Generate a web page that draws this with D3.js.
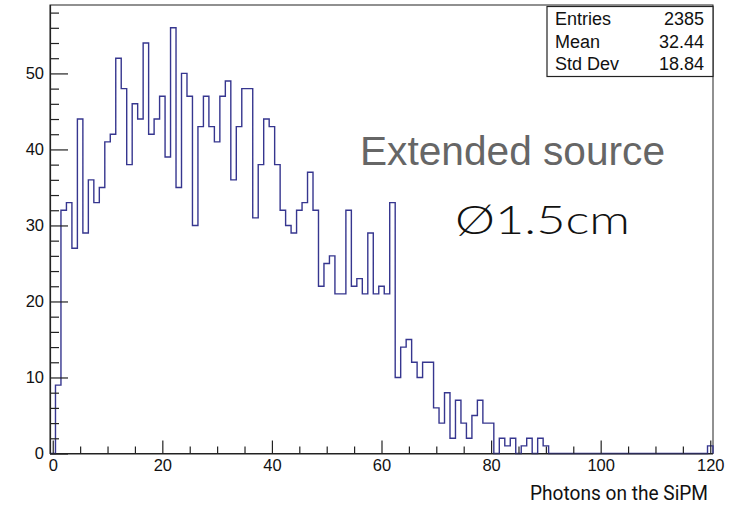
<!DOCTYPE html>
<html>
<head>
<meta charset="utf-8">
<script src="https://cdn.jsdelivr.net/npm/d3@7"></script>
<style>
  html, body { margin: 0; padding: 0; background: #fff; }
  svg { display: block; }
</style>
</head>
<body>
<svg id="chart" width="730" height="509"></svg>
<script>
// ---- Data ----
// bin index (photon count) 0..120, one bin per integer
const binIndex = d3.range(0, 121);
const counts = [
  0, 9, 32, 33, 27, 44, 29, 36, 33, 35,
  41, 42, 52, 48, 38, 46, 44, 54, 42, 44,
  47, 39, 56, 35, 50, 47, 30, 43, 47, 43,
  41, 47, 49, 36, 43, 48, 48, 31, 38, 44,
  43, 38, 32, 30, 29, 32, 33, 37, 32, 22,
  25, 26, 21, 21, 32, 22, 23, 21, 29, 21,
  22, 21, 33, 10, 14, 15, 12, 10, 12, 12,
  6, 4, 8, 2, 7, 4, 2, 5, 7, 4,
  4, 0, 2, 1, 2, 0, 1, 2, 0, 2,
  1, 0, 0, 0, 0, 0, 0, 0, 0, 0,
  0, 0, 0, 0, 0, 0, 0, 0, 0, 0,
  0, 0, 0, 0, 0, 0, 0, 0, 0, 0,
  1
];
const xMajorTicks = [0, 20, 40, 60, 80, 100, 120];
const xMinorTicks = [5, 10, 15, 25, 30, 35, 45, 50, 55, 65, 70, 75, 85, 90, 95, 105, 110, 115];
const yMajorTicks = [0, 10, 20, 30, 40, 50];
const yMinorTicks = [2, 4, 6, 8, 12, 14, 16, 18, 22, 24, 26, 28, 32, 34, 36, 38, 42, 44, 46, 48, 52, 54, 56, 58];
const statLabels = ["Entries", "Mean", "Std Dev"];
const statValues = ["2385", "32.44", "18.84"];
const titleText = "Extended source";
const sizeText = "Ø1.5cm";
const xAxisTitle = "Photons on the SiPM";

// ---- Layout ----
const svg = d3.select("#chart");
const L = 50, R = 713, T = 5, B = 453.5;
const x = d3.scaleLinear().domain([-0.5, 120.5]).range([L, R]);
const y = d3.scaleLinear().domain([0, 59]).range([B, T]);
const axisFont = "'Liberation Sans', Arial, Helvetica, sans-serif";

// frame
svg.append("rect")
  .attr("x", L).attr("y", T).attr("width", R - L).attr("height", B - T)
  .attr("fill", "none").attr("stroke", "#222").attr("stroke-width", 1);

// histogram outline (step)
const pts = [[-0.5, 0]];
binIndex.forEach((b, i) => { pts.push([b - 0.5, counts[i]]); pts.push([b + 0.5, counts[i]]); });
pts.push([120.5, 0]);
const line = d3.line().x(d => x(d[0])).y(d => y(d[1]));
svg.append("path")
  .attr("d", line(pts))
  .attr("fill", "none")
  .attr("stroke", "#36368f")
  .attr("stroke-width", 1.4)
  .attr("stroke-linejoin", "miter");

// axes
function styleAxis(g) {
  g.selectAll("path.domain").attr("stroke", "#222").attr("stroke-width", 1.2);
  g.selectAll(".tick line").attr("stroke", "#222").attr("stroke-width", 1.2);
  g.selectAll("text").attr("font-family", axisFont).attr("font-size", 16.5).attr("fill", "#111");
}
const gxMinor = svg.append("g").attr("transform", `translate(0,${B})`)
  .call(d3.axisBottom(x).tickValues(xMinorTicks).tickSize(-7).tickFormat(""));
styleAxis(gxMinor);
const gx = svg.append("g").attr("transform", `translate(0,${B})`)
  .call(d3.axisBottom(x).tickValues(xMajorTicks).tickSize(-13).tickPadding(6).tickFormat(d3.format("d")));
styleAxis(gx);
gx.selectAll("path.domain").attr("d", `M${L},0.5H${R}`);
gxMinor.selectAll("path.domain").remove();

const gyMinor = svg.append("g").attr("transform", `translate(${L},0)`)
  .call(d3.axisLeft(y).tickValues(yMinorTicks).tickSize(-9).tickFormat(""));
styleAxis(gyMinor);
gyMinor.selectAll("path.domain").remove();
const gy = svg.append("g").attr("transform", `translate(${L},0)`)
  .call(d3.axisLeft(y).tickValues(yMajorTicks).tickSize(-18).tickPadding(6).tickFormat(d3.format("d")));
styleAxis(gy);
gy.selectAll("path.domain").attr("d", `M0.5,${B}V${T}`);

// stats box
const sb = svg.append("g");
sb.append("rect").attr("x", 547).attr("y", 6.5).attr("width", 166).attr("height", 70)
  .attr("fill", "#fff").attr("stroke", "#222").attr("stroke-width", 1.2);
const rowY = [25, 47.5, 70];
statLabels.forEach((s, i) => {
  sb.append("text").attr("x", 555).attr("y", rowY[i]).text(s)
    .attr("font-family", axisFont).attr("font-size", 18).attr("fill", "#111");
  sb.append("text").attr("x", 704).attr("y", rowY[i]).text(statValues[i])
    .attr("text-anchor", "end")
    .attr("font-family", axisFont).attr("font-size", 18).attr("fill", "#111");
});

// annotations
svg.append("text").attr("x", 360).attr("y", 165).text(titleText)
  .attr("font-family", axisFont).attr("font-size", 41).attr("fill", "#666")
  .attr("textLength", 305).attr("lengthAdjust", "spacingAndGlyphs");
svg.append("text").attr("x", 455).attr("y", 234).text(sizeText)
  .attr("font-family", "Lato, 'Noto Sans', sans-serif").attr("font-weight", 300)
  .attr("font-size", 40).attr("fill", "#111")
  .attr("textLength", 175).attr("lengthAdjust", "spacingAndGlyphs");

svg.append("text").attr("x", 708).attr("y", 500).text(xAxisTitle)
  .attr("text-anchor", "end")
  .attr("font-family", "'Liberation Sans Narrow', 'Roboto', sans-serif")
  .attr("font-size", 21).attr("fill", "#111")
  .attr("textLength", 178).attr("lengthAdjust", "spacingAndGlyphs");
</script>
</body>
</html>
